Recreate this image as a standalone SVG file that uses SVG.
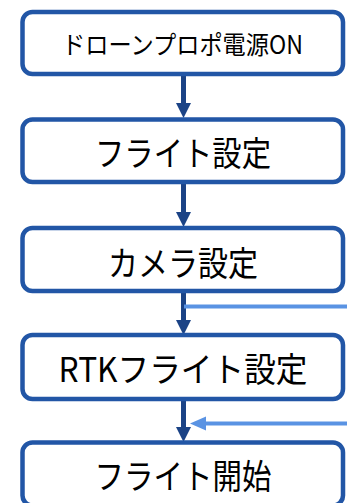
<svg xmlns="http://www.w3.org/2000/svg" width="347" height="503" viewBox="0 0 347 503">
  <style>
    .box { fill: #ffffff; stroke: #2256A6; stroke-width: 4.5; }
    .lbl { font-family: "Meiryo UI", "Noto Sans CJK JP", sans-serif; fill: #000000; text-anchor: middle; dominant-baseline: central; }
    .flow { stroke: #1B4386; stroke-width: 5; fill: none; }
    .side { stroke: #5A93E3; stroke-width: 4; fill: none; }
  </style>
  <defs>
    <marker id="ahDark" markerUnits="userSpaceOnUse" viewBox="0 -8 16 16" refX="1" refY="0" markerWidth="16" markerHeight="16" orient="auto">
      <path d="M0,-7.5 L15,0 L0,7.5 z" fill="#1B4386"/>
    </marker>
    <marker id="ahLight" markerUnits="userSpaceOnUse" viewBox="0 -8 17 16" refX="1" refY="0" markerWidth="17" markerHeight="16" orient="auto">
      <path d="M0,-7 L16,0 L0,7 z" fill="#5A93E3"/>
    </marker>
  </defs>
  <g id="connectors">
    <line class="flow" x1="183.5" y1="75" x2="183.5" y2="104" marker-end="url(#ahDark)"/>
    <line class="flow" x1="183.5" y1="183" x2="183.5" y2="213" marker-end="url(#ahDark)"/>
    <line class="flow" x1="183.5" y1="292" x2="183.5" y2="321" marker-end="url(#ahDark)"/>
    <line class="flow" x1="183.5" y1="400" x2="183.5" y2="428" marker-end="url(#ahDark)"/>
    <line class="side" x1="184" y1="306.5" x2="347" y2="306.5"/>
    <line class="side" x1="347" y1="423.5" x2="205" y2="423.5" marker-end="url(#ahLight)"/>
  </g>
  <g id="node1">
    <rect class="box" x="22.5" y="12" width="320.5" height="62" rx="10"/>
    <text class="lbl" x="182.5" y="42.5" font-size="25" textLength="241" lengthAdjust="spacingAndGlyphs">ドローンプロポ電源ON</text>
  </g>
  <g id="node2">
    <rect class="box" x="22.5" y="119.5" width="320.5" height="62.5" rx="10"/>
    <text class="lbl" x="183" y="151.5" font-size="34" textLength="176" lengthAdjust="spacingAndGlyphs">フライト設定</text>
  </g>
  <g id="node3">
    <rect class="box" x="22.5" y="228" width="320.5" height="63" rx="10"/>
    <text class="lbl" x="183" y="261" font-size="34" textLength="150" lengthAdjust="spacingAndGlyphs">カメラ設定</text>
  </g>
  <g id="node4">
    <rect class="box" x="22.5" y="335" width="320.5" height="64" rx="10"/>
    <text class="lbl" x="183" y="367" font-size="34" textLength="249" lengthAdjust="spacingAndGlyphs">RTKフライト設定</text>
  </g>
  <g id="node5">
    <rect class="box" x="22.5" y="442.5" width="320.5" height="63" rx="10"/>
    <text class="lbl" x="183" y="474" font-size="34" textLength="177" lengthAdjust="spacingAndGlyphs">フライト開始</text>
  </g>
</svg>
